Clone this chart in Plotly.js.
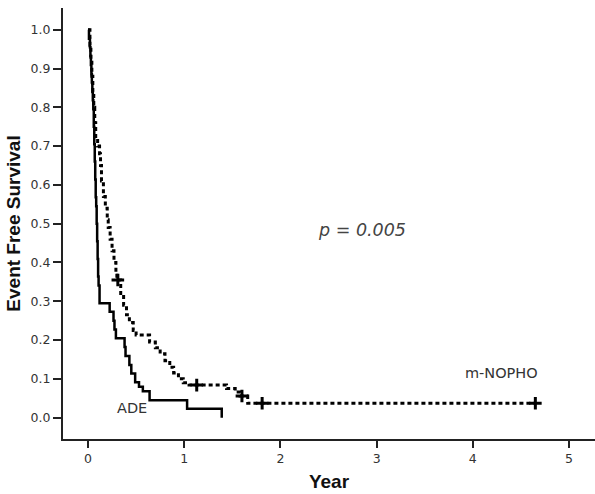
<!DOCTYPE html>
<html>
<head>
<meta charset="utf-8">
<script src="https://cdn.plot.ly/plotly-3.0.1.min.js"></script>
<style>html,body{margin:0;padding:0;background:#fff;}#chart{width:595px;height:494px;}</style>
</head>
<body>
<div id="chart"></div>
<script>
// ADE (solid) step curve: time (years) and survival after each event
var adeTime = [0, 0.01, 0.02, 0.025, 0.03, 0.035, 0.04, 0.045, 0.05, 0.055, 0.06, 0.065, 0.07, 0.075, 0.08, 0.085, 0.09, 0.095, 0.10, 0.105, 0.11, 0.12, 0.225, 0.265, 0.275, 0.29, 0.38, 0.39, 0.43, 0.45, 0.49, 0.53, 0.57, 0.64, 1.03, 1.39];
var adeSurv = [1.0, 0.977, 0.955, 0.932, 0.909, 0.886, 0.864, 0.841, 0.818, 0.795, 0.75, 0.705, 0.66, 0.614, 0.568, 0.545, 0.5, 0.455, 0.409, 0.364, 0.341, 0.295, 0.273, 0.25, 0.227, 0.205, 0.182, 0.159, 0.136, 0.114, 0.091, 0.08, 0.068, 0.045, 0.023, 0.0];

// m-NOPHO (dashed) step curve
var nophoTime = [0, 0.02, 0.03, 0.04, 0.05, 0.06, 0.07, 0.08, 0.10, 0.12, 0.13, 0.14, 0.16, 0.18, 0.20, 0.21, 0.23, 0.25, 0.27, 0.29, 0.30, 0.34, 0.37, 0.40, 0.43, 0.47, 0.50, 0.64, 0.70, 0.75, 0.80, 0.85, 0.89, 0.94, 0.99, 1.05, 1.44, 1.53, 1.58, 1.66, 4.65];
var nophoSurv = [1.0, 0.96, 0.92, 0.88, 0.84, 0.80, 0.76, 0.72, 0.70, 0.68, 0.65, 0.61, 0.57, 0.54, 0.51, 0.49, 0.46, 0.43, 0.40, 0.375, 0.355, 0.32, 0.29, 0.265, 0.245, 0.225, 0.213, 0.195, 0.18, 0.165, 0.147, 0.13, 0.115, 0.10, 0.09, 0.084, 0.075, 0.066, 0.056, 0.037, 0.037];

// censored observations (m-NOPHO)
var censorTime = [0.31, 1.13, 1.60, 1.81, 4.65];
var censorSurv = [0.355, 0.084, 0.056, 0.037, 0.037];

var yTicks = [0, 0.1, 0.2, 0.3, 0.4, 0.5, 0.6, 0.7, 0.8, 0.9, 1.0];
var xTicks = [0, 1, 2, 3, 4, 5];

var FONT = '"Liberation Sans", Arial, sans-serif';
var WIDE = '"DejaVu Sans", Verdana, sans-serif';

var traces = [
  {x: adeTime, y: adeSurv, mode: 'lines', line: {shape: 'hv', color: '#000', width: 2.5}, hoverinfo: 'skip', name: 'ADE'},
  {x: nophoTime, y: nophoSurv, mode: 'lines', line: {shape: 'hv', color: '#000', width: 3, dash: '4px,3px'}, hoverinfo: 'skip', name: 'm-NOPHO'},
  {x: censorTime, y: censorSurv, mode: 'markers', marker: {symbol: 'cross-thin', size: 9, color: '#000', line: {color: '#000', width: 3}}, hoverinfo: 'skip', name: 'censored'}
];

var layout = {
  width: 595, height: 494,
  margin: {l: 63, r: 0, t: 8, b: 55},
  paper_bgcolor: '#fff', plot_bgcolor: '#fff',
  showlegend: false,
  font: {family: WIDE, size: 12, color: '#333'},
  xaxis: {
    range: [-0.26, 5.27], tickvals: xTicks, ticktext: xTicks.map(String),
    showgrid: false, zeroline: false, showline: true, linecolor: '#222', linewidth: 2,
    ticks: 'outside', ticklen: 7, tickwidth: 2, tickcolor: '#222',
    tickfont: {family: WIDE, size: 12.5, color: '#333'},
    title: {text: '<b>Year</b>', font: {family: FONT, size: 19, color: '#111'}, standoff: 10}
  },
  yaxis: {
    range: [-0.055, 1.056], tickvals: yTicks, ticktext: yTicks.map(function(v){return v.toFixed(1);}),
    showgrid: false, zeroline: false, showline: true, linecolor: '#222', linewidth: 2,
    ticks: 'outside', ticklen: 8, tickwidth: 2, tickcolor: '#222',
    tickfont: {family: WIDE, size: 12.5, color: '#333'},
    title: {text: '<b>Event Free Survival</b>', font: {family: FONT, size: 19, color: '#111'}, standoff: 5}
  },
  annotations: [
    {x: 2.85, y: 0.485, xref: 'x', yref: 'y', text: '<i>p = 0.005</i>', showarrow: false, font: {family: WIDE, size: 17.5, color: '#444'}},
    {x: 4.3, y: 0.115, xref: 'x', yref: 'y', text: 'm-NOPHO', showarrow: false, font: {family: WIDE, size: 14.5, color: '#333'}},
    {x: 0.46, y: 0.025, xref: 'x', yref: 'y', text: 'ADE', showarrow: false, font: {family: WIDE, size: 14.5, color: '#333'}}
  ]
};

Plotly.newPlot('chart', traces, layout, {staticPlot: true, displayModeBar: false});
</script>
</body>
</html>
